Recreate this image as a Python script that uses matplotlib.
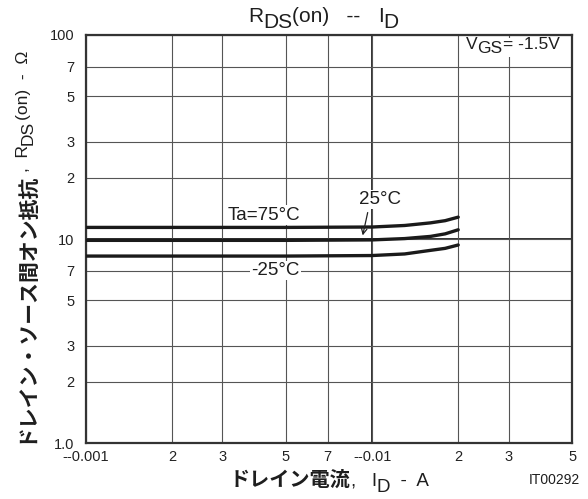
import matplotlib
matplotlib.use("Agg")
import matplotlib.pyplot as plt
from matplotlib.patches import Rectangle

plt.rcParams['font.family'] = ['Liberation Sans', 'Noto Sans CJK JP', 'DejaVu Sans']
plt.rcParams['text.color'] = '#1e1e1e'

# drain current (A) and on-resistance (ohm) for each ambient temperature
i_d = [0.001, 0.005, 0.01, 0.013, 0.016, 0.018, 0.02]
r_75 = [11.4, 11.4, 11.45, 11.65, 12.0, 12.3, 12.8]
r_25 = [9.85, 9.85, 9.9, 10.05, 10.3, 10.6, 11.1]
r_m25 = [8.25, 8.25, 8.3, 8.45, 8.8, 9.0, 9.35]

x_ticks = [0.001, 0.002, 0.003, 0.005, 0.007, 0.01, 0.02, 0.03, 0.05]
x_labels = ['--0.001', '2', '3', '5', '7', '--0.01', '2', '3', '5']
y_ticks = [1, 2, 3, 5, 7, 10, 20, 30, 50, 70, 100]
y_labels = ['1.0', '2', '3', '5', '7', '10', '2', '3', '5', '7', '100']

W, H = 588, 499
fig = plt.figure(figsize=(W / 100, H / 100), dpi=100)
ax = fig.add_axes([0.146, 0.112, 0.827, 0.818])
r = fig.canvas.get_renderer()

JP = dict(family=['Noto Sans CJK JP'], fontweight='bold')
LT = dict()


def advance(text, size, kw):
    a = fig.text(0, 0, 'x' + text + 'x', fontsize=size, **kw)
    b = fig.text(0, 0, 'xx', fontsize=size, **kw)
    w = a.get_window_extent(r).width - b.get_window_extent(r).width
    a.remove()
    b.remove()
    return w


def put(x, y, parts, rot=0):
    # x, y in pixels from the top-left; a subscript is just shifted down
    pos = 0
    for text, size, shift, kw in parts:
        if rot == 0:
            px, py = x + pos, y + shift
        else:
            px, py = x + shift, y - pos
        fig.text(px / W, (H - py) / H, text, fontsize=size, rotation=rot,
                 rotation_mode='anchor', ha='left', va='baseline', zorder=5, **kw)
        pos += advance(text, size, kw)
    return pos


for rr in (r_75, r_25, r_m25):
    ax.plot(i_d, rr, color='#1a1a1a', lw=2.4, solid_capstyle='round', zorder=3)

ax.set_xscale('log')
ax.set_yscale('log')
ax.set_xlim(0.001, 0.05)
ax.set_ylim(1, 100)
ax.set_xticks(x_ticks)
ax.set_xticklabels(x_labels)
ax.set_yticks(y_ticks)
ax.set_yticklabels(y_labels)
ax.minorticks_off()
ax.tick_params(length=0, labelsize=10.5, colors='#222222')
ax.tick_params(axis='y', pad=8)
ax.tick_params(axis='x', pad=5)
ax.grid(True, color='#555555', lw=0.8)
ax.axvline(0.01, color='#222222', lw=1.3, zorder=1)
ax.axhline(10, color='#222222', lw=1.3, zorder=1)
for s in ax.spines.values():
    s.set_linewidth(1.6)
    s.set_color('#333333')

box = dict(facecolor='white', edgecolor='none', pad=1)
ax.text(0.0042, 13.1, 'Ta=75°C', fontsize=13.5, ha='center', va='center', bbox=box, zorder=4)
ax.text(0.0107, 15.6, '25°C', fontsize=13.5, ha='center', va='center', bbox=box, zorder=4)
ax.annotate('', xy=(0.00923, 10.1), xytext=(0.0097, 13.9),
            arrowprops=dict(arrowstyle='->', color='#222222', lw=0.9), zorder=4)
ax.text(0.0046, 7.0, '-25°C', fontsize=13.5, ha='center', va='center', bbox=box, zorder=4)

# white patch behind the VGS note
ax.add_patch(Rectangle((462 / W, (H - 57) / H), 108 / W, 19 / H, transform=fig.transFigure,
                       facecolor='white', edgecolor='none', zorder=2.5))
put(466, 49, [('V', 12.5, 0, LT), ('GS', 12.5, 4, LT), ('= -1.5V', 12.5, 0, LT)])

# title
put(248, 22, [('R', 15, 0, LT), ('DS', 15, 6, LT), ('(on)   --   ', 15, 0, LT),
              ('I', 15, 0, LT), ('D', 15, 6, LT)])

# y label, written upward
n = put(31, 443, [('ドレイン・ソース間オン抵抗', 15, 0, JP)], rot=90)
put(28, 443 - n, [(',  R', 12.5, 0, LT), ('DS', 12.5, 5, LT), ('(on)  -  Ω', 12.5, 0, LT)], rot=90)

# x label
n = put(230, 486, [('ドレイン電流', 14.5, 0, JP)])
put(230 + n, 486, [(',   I', 13.5, 0, LT), ('D', 13.5, 6, LT), ('  -  A', 13.5, 0, LT)])
fig.text(580 / W, (H - 484) / H, 'IT00292', fontsize=10, ha='right', va='baseline')

fig.savefig('out.png', dpi=100)
